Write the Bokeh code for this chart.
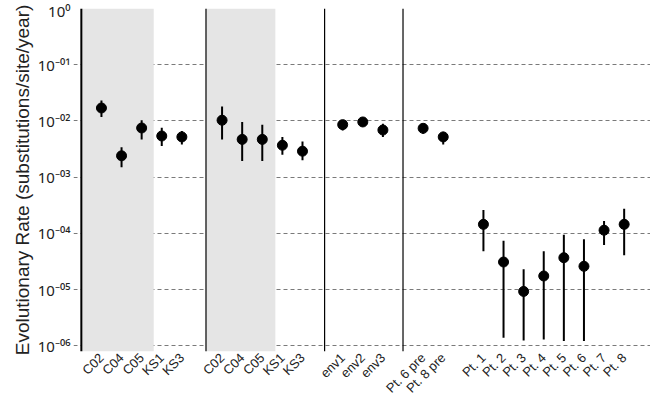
import numpy as np
from bokeh.plotting import figure
from bokeh.models import FixedTicker, ColumnDataSource, Span, BoxAnnotation
from bokeh.embed import file_html
from bokeh.resources import INLINE

# ---- data ----
groups = [
    ["C02", "C04", "C05", "KS1", "KS3"],
    ["C02", "C04", "C05", "KS1", "KS3"],
    ["env1", "env2", "env3"],
    ["Pt. 6 pre", "Pt. 8 pre"],
    ["Pt. 1", "Pt. 2", "Pt. 3", "Pt. 4", "Pt. 5", "Pt. 6", "Pt. 7", "Pt. 8"],
]
rate = [1.7e-2, 2.4e-3, 7.5e-3, 5.4e-3, 5.2e-3,
        1.03e-2, 4.7e-3, 4.7e-3, 3.7e-3, 2.9e-3,
        8.6e-3, 9.6e-3, 6.9e-3,
        7.4e-3, 5.2e-3,
        1.45e-4, 3.1e-5, 9.3e-6, 1.75e-5, 3.7e-5, 2.6e-5, 1.14e-4, 1.45e-4]
upper = [2.3e-2, 3.4e-3, 1.03e-2, 7.6e-3, 6.6e-3,
         1.8e-2, 9.6e-3, 8.6e-3, 5.2e-3, 4.3e-3,
         9.8e-3, 1.05e-2, 8.9e-3,
         8.8e-3, 6.4e-3,
         2.6e-4, 7.4e-5, 2.3e-5, 4.8e-5, 9.5e-5, 7.9e-5, 1.66e-4, 2.75e-4]
lower = [1.18e-2, 1.5e-3, 4.7e-3, 3.6e-3, 3.8e-3,
         4.7e-3, 1.95e-3, 1.95e-3, 2.5e-3, 2.0e-3,
         6.8e-3, 8.8e-3, 5.2e-3,
         5.9e-3, 3.8e-3,
         4.8e-5, 1.4e-6, 1.25e-6, 1.3e-6, 1.22e-6, 1.22e-6, 6.2e-5, 4.1e-5]

separators = [0.0, 6.2, 12.1, 16.0]
shaded = [(0.0, 3.6), (6.2, 9.65)]

y_ticks = [1e-6, 1e-5, 1e-4, 1e-3, 1e-2, 1e-1, 1.0]
y_tick_labels = ["10\u207b\u2070\u2076", "10\u207b\u2070\u2075", "10\u207b\u2070\u2074",
                 "10\u207b\u2070\u00b3", "10\u207b\u2070\u00b2", "10\u207b\u2070\u00b9", "10\u2070"]

# positions: each group followed by one empty slot
xs, labels = [], []
pos = 1
for g in groups:
    for lab in g:
        xs.append(pos)
        labels.append(lab)
        pos += 1
    pos += 1

src = ColumnDataSource(dict(x=xs, y=rate, lo=lower, hi=upper))

FONT = "Liberation Sans"

p = figure(width=650, height=412, y_axis_type="log",
           x_range=(-0.39, 28.31), y_range=(10 ** -6.1, 1.0),
           output_backend="svg", toolbar_location=None,
           min_border_left=73, min_border_right=0, min_border_top=8,
           min_border_bottom=61)
p.outline_line_color = None
p.background_fill_color = "white"
p.border_fill_color = "white"
p.xgrid.visible = False
p.ygrid.grid_line_color = "#7a7a7a"
p.ygrid.grid_line_dash = "4 3"
p.ygrid.grid_line_width = 1
p.ygrid.ticker = FixedTicker(ticks=y_ticks)

for a, b in shaded:
    p.add_layout(BoxAnnotation(left=a, right=b, fill_color="#e5e5e5",
                               fill_alpha=1.0, line_color=None, level="underlay"))
for i, s in enumerate(separators):
    p.add_layout(Span(location=s, dimension="height", line_color="black",
                      line_width=2 if i == 0 else 1.2))

p.segment(x0="x", x1="x", y0="lo", y1="hi", source=src, line_color="black", line_width=2)
p.scatter(x="x", y="y", source=src, size=10, color="black")

# axes
for ax in (p.xaxis[0], p.yaxis[0]):
    ax.axis_line_color = None
    ax.major_tick_line_color = None
    ax.minor_tick_line_color = None
    ax.major_tick_out = 0
    ax.major_tick_in = 0
    ax.minor_tick_out = 0
    ax.minor_tick_in = 0

p.yaxis.ticker = FixedTicker(ticks=y_ticks)
p.yaxis.major_label_overrides = {t: l for t, l in zip(y_ticks, y_tick_labels)}
p.yaxis.major_label_text_font = "Noto Sans"
p.yaxis.major_label_text_font_size = "15px"
p.yaxis.major_label_text_color = "#222222"
p.yaxis.major_label_standoff = 3
p.yaxis.axis_label = "Evolutionary Rate (substitutions/site/year)"
p.yaxis.axis_label_text_font = FONT
p.yaxis.axis_label_text_font_size = "19px"
p.yaxis.axis_label_text_font_style = "normal"
p.yaxis.axis_label_text_color = "#222222"
p.yaxis.axis_label_standoff = 2

p.xaxis.ticker = FixedTicker(ticks=xs)
p.xaxis.major_label_overrides = {x: l for x, l in zip(xs, labels)}
p.xaxis.major_label_orientation = np.pi / 4
p.xaxis.major_label_text_font = FONT
p.xaxis.major_label_text_font_size = "13px"
p.xaxis.major_label_text_color = "#222222"
p.xaxis.major_label_standoff = 4

open("out.html", "w").write(file_html(p, INLINE))
